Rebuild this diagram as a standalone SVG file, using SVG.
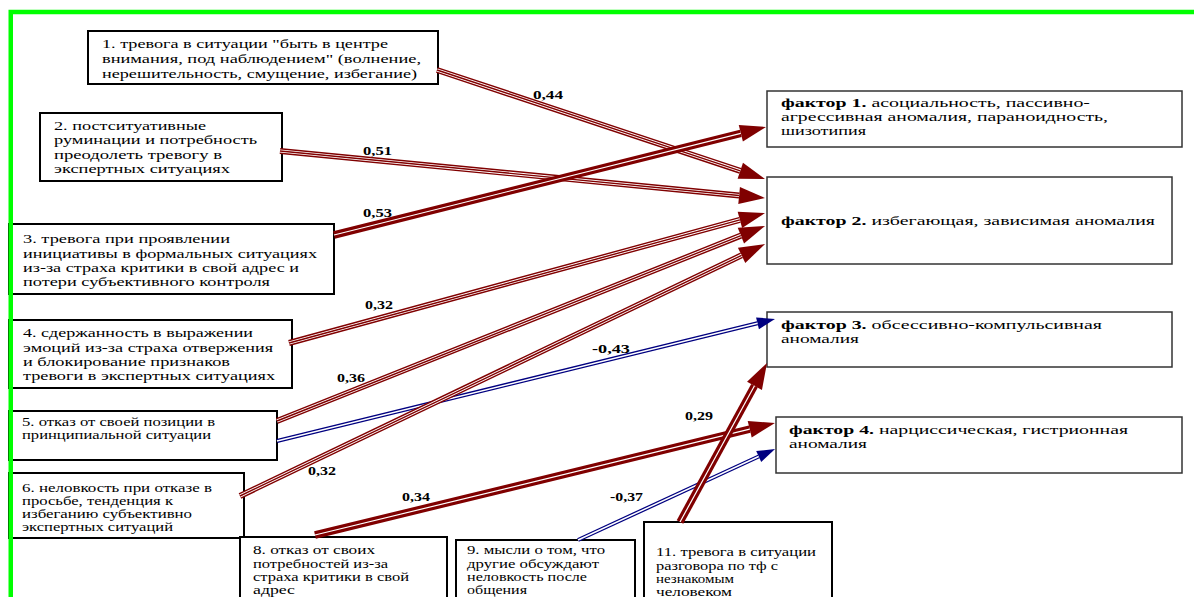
<svg xmlns="http://www.w3.org/2000/svg" width="1194" height="597" viewBox="0 0 1194 597">
<style>
.bg{fill:#fff}
.nb{fill:#fff;stroke:#000;stroke-width:2}
.fb{fill:#fff;stroke:#333;stroke-width:1.5}
.t{font-family:"Liberation Serif","Times New Roman",serif;font-size:13px;fill:#000}
.b{font-weight:bold}
.lbl{font-family:"Liberation Serif","Times New Roman",serif;font-size:13px;font-weight:bold;fill:#000}
.o{fill:none;stroke:#800000;stroke-width:6}
.w{fill:none;stroke:#fff;stroke-width:3.2}
.i{fill:none;stroke:#800000;stroke-width:1.4}
.to{fill:none;stroke:#800000;stroke-width:7.5}
.tw{fill:none;stroke:#fff;stroke-width:1.2}
.bo{fill:none;stroke:#000080;stroke-width:4}
.bw{fill:none;stroke:#fff;stroke-width:1.5}
.green{fill:none;stroke:#00ff00}
</style>
<defs>
<marker id="ar" markerUnits="userSpaceOnUse" viewBox="0 -8.5 26 17" refX="0" refY="0" markerWidth="26" markerHeight="17" orient="auto" overflow="visible">
<path d="M0,-8.5 L26,0 L0,8.5 z" fill="#800000"/>
</marker>
<marker id="ab" markerUnits="userSpaceOnUse" viewBox="0 -6 18 12" refX="0" refY="0" markerWidth="18" markerHeight="12" orient="auto" overflow="visible">
<path d="M0,-6 L18,0 L0,6 z" fill="#000080"/>
</marker>
</defs>
<rect class="bg" x="0" y="0" width="1194" height="597"/>

<g id="n1"><rect class="nb" x="88" y="31" width="350" height="53"/>
<text class="t" x="102" y="48" textLength="286" lengthAdjust="spacingAndGlyphs">1. тревога в ситуации "быть в центре</text>
<text class="t" x="102" y="63" textLength="319" lengthAdjust="spacingAndGlyphs">внимания, под наблюдением" (волнение,</text>
<text class="t" x="102" y="78" textLength="315" lengthAdjust="spacingAndGlyphs">нерешительность, смущение, избегание)</text></g>

<g id="n2"><rect class="nb" x="40" y="113" width="242" height="68"/>
<text class="t" x="54" y="130" textLength="152" lengthAdjust="spacingAndGlyphs">2. постситуативные</text>
<text class="t" x="54" y="144" textLength="203" lengthAdjust="spacingAndGlyphs">руминации и потребность</text>
<text class="t" x="54" y="159" textLength="168" lengthAdjust="spacingAndGlyphs">преодолеть тревогу в</text>
<text class="t" x="54" y="173" textLength="176" lengthAdjust="spacingAndGlyphs">экспертных ситуациях</text></g>

<g id="n3"><rect class="nb" x="9" y="224" width="325" height="70"/>
<text class="t" x="23" y="243" textLength="207" lengthAdjust="spacingAndGlyphs">3. тревога при проявлении</text>
<text class="t" x="23" y="258" textLength="294" lengthAdjust="spacingAndGlyphs">инициативы в формальных ситуациях</text>
<text class="t" x="23" y="272" textLength="276" lengthAdjust="spacingAndGlyphs">из-за страха критики в свой адрес и</text>
<text class="t" x="23" y="286" textLength="247" lengthAdjust="spacingAndGlyphs">потери субъективного контроля</text></g>

<g id="n4"><rect class="nb" x="9" y="320" width="283" height="68"/>
<text class="t" x="23" y="337" textLength="230" lengthAdjust="spacingAndGlyphs">4. сдержанность в выражении</text>
<text class="t" x="23" y="352" textLength="250" lengthAdjust="spacingAndGlyphs">эмоций из-за страха отвержения</text>
<text class="t" x="23" y="366" textLength="207" lengthAdjust="spacingAndGlyphs">и блокирование признаков</text>
<text class="t" x="23" y="380" textLength="252" lengthAdjust="spacingAndGlyphs">тревоги в экспертных ситуациях</text></g>

<g id="n5"><rect class="nb" x="9" y="411" width="268" height="49"/>
<text class="t" x="22" y="426" textLength="193" lengthAdjust="spacingAndGlyphs">5. отказ от своей позиции в</text>
<text class="t" x="22" y="439" textLength="189" lengthAdjust="spacingAndGlyphs">принципиальной ситуации</text></g>

<g id="n6"><rect class="nb" x="9" y="473" width="235" height="65"/>
<text class="t" x="22" y="492" textLength="190" lengthAdjust="spacingAndGlyphs">6. неловкость при отказе в</text>
<text class="t" x="22" y="505" textLength="151" lengthAdjust="spacingAndGlyphs">просьбе, тенденция к</text>
<text class="t" x="22" y="518" textLength="170" lengthAdjust="spacingAndGlyphs">избеганию субъективно</text>
<text class="t" x="22" y="531" textLength="151" lengthAdjust="spacingAndGlyphs">экспертных ситуаций</text></g>

<g id="n8"><rect class="nb" x="240" y="537" width="207" height="72"/>
<text class="t" x="253" y="554" textLength="122" lengthAdjust="spacingAndGlyphs">8. отказ от своих</text>
<text class="t" x="253" y="568" textLength="135" lengthAdjust="spacingAndGlyphs">потребностей из-за</text>
<text class="t" x="253" y="581" textLength="156" lengthAdjust="spacingAndGlyphs">страха критики в свой</text>
<text class="t" x="253" y="594" textLength="42" lengthAdjust="spacingAndGlyphs">адрес</text></g>

<g id="n9"><rect class="nb" x="456" y="540" width="179" height="70"/>
<text class="t" x="467" y="554" textLength="138" lengthAdjust="spacingAndGlyphs">9. мысли о том, что</text>
<text class="t" x="467" y="568" textLength="132" lengthAdjust="spacingAndGlyphs">другие обсуждают</text>
<text class="t" x="467" y="581" textLength="120" lengthAdjust="spacingAndGlyphs">неловкость после</text>
<text class="t" x="467" y="594" textLength="60" lengthAdjust="spacingAndGlyphs">общения</text></g>

<g id="n11"><rect class="nb" x="644" y="522" width="188" height="90"/>
<text class="t" x="656" y="556" textLength="160" lengthAdjust="spacingAndGlyphs">11. тревога в ситуации</text>
<text class="t" x="656" y="570" textLength="122" lengthAdjust="spacingAndGlyphs">разговора по тф с</text>
<text class="t" x="656" y="583" textLength="78" lengthAdjust="spacingAndGlyphs">незнакомым</text>
<text class="t" x="656" y="596" textLength="76" lengthAdjust="spacingAndGlyphs">человеком</text></g>

<g id="f1"><rect class="fb" x="767" y="91" width="415" height="56"/>
<text class="t" x="781" y="107" textLength="309" lengthAdjust="spacingAndGlyphs"><tspan class="b">фактор 1.</tspan> асоциальность, пассивно-</text>
<text class="t" x="781" y="121" textLength="327" lengthAdjust="spacingAndGlyphs">агрессивная аномалия, параноидность,</text>
<text class="t" x="781" y="135" textLength="85" lengthAdjust="spacingAndGlyphs">шизотипия</text></g>

<g id="f2"><rect class="fb" x="767" y="177" width="405" height="87"/>
<text class="t" x="781" y="225" textLength="374" lengthAdjust="spacingAndGlyphs"><tspan class="b">фактор 2.</tspan> избегающая, зависимая аномалия</text></g>

<g id="f3"><rect class="fb" x="767" y="312" width="405" height="55"/>
<text class="t" x="781" y="329" textLength="321" lengthAdjust="spacingAndGlyphs"><tspan class="b">фактор 3.</tspan> обсессивно-компульсивная</text>
<text class="t" x="781" y="343" textLength="78" lengthAdjust="spacingAndGlyphs">аномалия</text></g>

<g id="f4"><rect class="fb" x="776" y="417" width="406" height="56"/>
<text class="t" x="789" y="434" textLength="339" lengthAdjust="spacingAndGlyphs"><tspan class="b">фактор 4.</tspan> нарциссическая, гистрионная</text>
<text class="t" x="789" y="448" textLength="78" lengthAdjust="spacingAndGlyphs">аномалия</text></g>

<g id="connectors">
<g id="c1"><path class="o" d="M437,70 L740.3,170.8" marker-end="url(#ar)"/><path class="w" d="M437,70 L740.3,170.8"/><path class="i" d="M437,70 L740.3,170.8"/></g>
<g id="c2"><path class="o" d="M280,151 L739.1,195.5" marker-end="url(#ar)"/><path class="w" d="M280,151 L739.1,195.5"/><path class="i" d="M280,151 L739.1,195.5"/></g>
<g id="c3"><path class="to" d="M334,235 L740.8,133.3" marker-end="url(#ar)"/><path class="tw" d="M334,235 L740.8,133.3"/></g>
<g id="c4"><path class="o" d="M289,343 L739.9,219.9" marker-end="url(#ar)"/><path class="w" d="M289,343 L739.9,219.9"/><path class="i" d="M289,343 L739.9,219.9"/></g>
<g id="c5r"><path class="o" d="M277,421 L740.9,235.6" marker-end="url(#ar)"/><path class="w" d="M277,421 L740.9,235.6"/><path class="i" d="M277,421 L740.9,235.6"/></g>
<g id="c5b"><path class="bo" d="M277,441 L757.5,323.3" marker-end="url(#ab)"/><path class="bw" d="M277,441 L757.5,323.3"/></g>
<g id="c6"><path class="o" d="M240,496 L741.6,255.3" marker-end="url(#ar)"/><path class="w" d="M240,496 L741.6,255.3"/><path class="i" d="M240,496 L741.6,255.3"/></g>
<g id="c8"><path class="to" d="M315,535 L749.7,429.2" marker-end="url(#ar)"/><path class="tw" d="M315,535 L749.7,429.2"/></g>
<g id="c9"><path class="bo" d="M578,540 L758.7,456.5" marker-end="url(#ab)"/><path class="bw" d="M578,540 L758.7,456.5"/></g>
<g id="c11"><path class="to" d="M680,522 L754.5,385.8" marker-end="url(#ar)"/><path class="tw" d="M680,522 L754.5,385.8"/></g>
<text class="lbl" x="533" y="99" textLength="30" lengthAdjust="spacingAndGlyphs">0,44</text>
<text class="lbl" x="363" y="155" textLength="29" lengthAdjust="spacingAndGlyphs">0,51</text>
<text class="lbl" x="363" y="217" textLength="29" lengthAdjust="spacingAndGlyphs">0,53</text>
<text class="lbl" x="365" y="309" textLength="28" lengthAdjust="spacingAndGlyphs">0,32</text>
<text class="lbl" x="337" y="382" textLength="28" lengthAdjust="spacingAndGlyphs">0,36</text>
<text class="lbl" x="592" y="353" textLength="38" lengthAdjust="spacingAndGlyphs">-0,43</text>
<text class="lbl" x="308" y="475" textLength="28" lengthAdjust="spacingAndGlyphs">0,32</text>
<text class="lbl" x="402" y="501" textLength="28" lengthAdjust="spacingAndGlyphs">0,34</text>
<text class="lbl" x="610" y="501" textLength="33" lengthAdjust="spacingAndGlyphs">-0,37</text>
<text class="lbl" x="685" y="420" textLength="28" lengthAdjust="spacingAndGlyphs">0,29</text>
</g>

<g id="frame">
<path class="green" d="M10.75,597 V12 H1194" stroke-width="4.5"/>
</g>
</svg>
